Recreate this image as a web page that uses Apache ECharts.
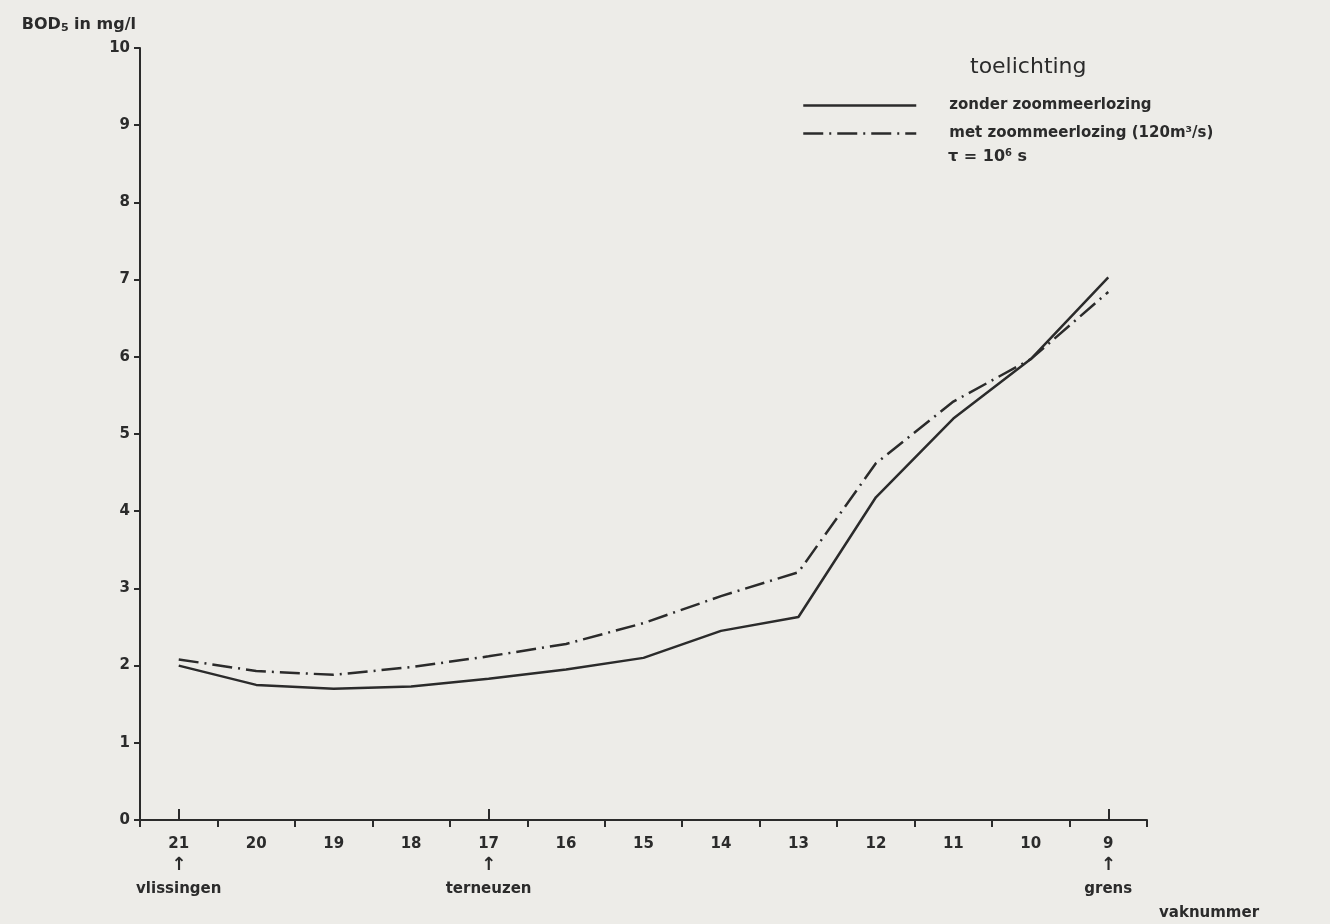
<!DOCTYPE html>
<html lang="nl">
<head>
    <meta charset="UTF-8">
    <title>BOD5 per vak</title>
    <script src="https://cdn.jsdelivr.net/npm/echarts@6/dist/echarts.min.js"></script>
    <style>
        html, body { margin: 0; padding: 0; background: #edece8; }
        #main { width: 1330px; height: 924px; }
    </style>
</head>
<body>
<div id="main"></div>
<script>
    // vaknummers (x-as), van vlissingen naar de grens
    var vakken = ['21', '20', '19', '18', '17', '16', '15', '14', '13', '12', '11', '10', '9'];
    // plaatsnamen onder de as
    var plaatsen = { '21': 'vlissingen', '17': 'terneuzen', '9': 'grens' };
    // BOD5 in mg/l
    var zonder = [2.0, 1.75, 1.7, 1.73, 1.83, 1.95, 2.1, 2.45, 2.63, 4.18, 5.2, 5.97, 7.03];
    var met = [2.08, 1.93, 1.88, 1.98, 2.12, 2.28, 2.55, 2.9, 3.21, 4.62, 5.42, 5.97, 6.84];
    var yTicks = [0, 10, 1];

    var ink = '#2b2b2b';
    var font = 'DejaVu Sans';

    var myChart = echarts.init(document.getElementById('main'));

    var option = {
        backgroundColor: '#edece8',
        animation: false,
        textStyle: { fontFamily: font, color: ink },
        grid: { left: 140, right: 183, top: 48, bottom: 104 },
        legend: {
            orient: 'vertical',
            left: 797,
            top: 93,
            itemWidth: 113,
            itemHeight: 14,
            itemGap: 13,
            itemStyle: { opacity: 0 },
            lineStyle: { width: 2.5 },
            data: ['zonder zoommeerlozing', 'met zoommeerlozing (120m³/s)'],
            textStyle: { fontFamily: font, fontSize: 15, fontWeight: 'bold', color: ink, padding: [0, 0, 0, 28] }
        },
        graphic: [
            { type: 'text', left: 970, top: 56, style: { text: 'toelichting', font: '22px "DejaVu Sans"', fill: ink } },
            { type: 'text', left: 948, top: 148, style: {
                text: '{t|τ = 10}{s|6}{t| s}',
                fill: ink,
                rich: {
                    t: { fontFamily: font, fontSize: 16, fontWeight: 'bold', fill: ink },
                    s: { fontFamily: font, fontSize: 10, fontWeight: 'bold', fill: ink, verticalAlign: 'top', padding: [0, 0, 8, 0] }
                }
            } },
            { type: 'text', left: 1248, top: -11, style: { text: 'vaknummer', font: 'bold 15px "DejaVu Sans"', fill: ink } }
        ],
        xAxis: [{
            type: 'category',
            data: vakken,
            boundaryGap: true,
            name: 'vaknummer',
            nameLocation: 'end',
            nameGap: 12,
            nameTextStyle: { fontFamily: font, fontSize: 15, fontWeight: 'bold', color: ink, verticalAlign: 'top', padding: [86, 0, 0, 0] },
            axisLine: { lineStyle: { color: ink, width: 2 } },
            axisTick: { show: true, interval: 0, length: 7, lineStyle: { color: ink, width: 2 } },
            axisLabel: {
                interval: 0,
                margin: 14,
                formatter: function (v) {
                    if (plaatsen[v]) return '{n|' + v + '}\n{a|↑}\n{p|' + plaatsen[v] + '}';
                    return '{n|' + v + '}';
                },
                rich: {
                    n: { fontFamily: font, fontSize: 15, fontWeight: 'bold', color: ink, lineHeight: 20 },
                    a: { fontFamily: font, fontSize: 18, fontWeight: 'bold', color: ink, lineHeight: 22 },
                    p: { fontFamily: font, fontSize: 15, fontWeight: 'bold', color: ink, lineHeight: 26 }
                }
            }
        }, {
            // korte merktekens boven de as bij de plaatsen
            type: 'category',
            data: vakken,
            position: 'bottom',
            axisLine: { show: false },
            axisLabel: { show: false },
            axisTick: {
                show: true,
                inside: true,
                length: 11,
                alignWithLabel: true,
                interval: function (i, v) { return !!plaatsen[v]; },
                lineStyle: { color: ink, width: 2 }
            }
        }],
        yAxis: {
            type: 'value',
            min: yTicks[0],
            max: yTicks[1],
            interval: yTicks[2],
            name: '{b|BOD}{s|5}{b| in mg/l}',
            nameLocation: 'end',
            nameGap: 14,
            nameTextStyle: {
                align: 'right',
                padding: [0, 4, 0, 0],
                rich: {
                    b: { fontFamily: font, fontSize: 16, fontWeight: 'bold', color: ink },
                    s: { fontFamily: font, fontSize: 11, fontWeight: 'bold', color: ink, verticalAlign: 'bottom', padding: [8, 0, 0, 0] }
                }
            },
            splitLine: { show: false },
            axisLine: { show: true, lineStyle: { color: ink, width: 2 } },
            axisTick: { show: true, length: 6, lineStyle: { color: ink, width: 2 } },
            axisLabel: { margin: 10, fontFamily: font, fontSize: 15, fontWeight: 'bold', color: ink }
        },
        series: [{
            name: 'zonder zoommeerlozing',
            type: 'line',
            data: zonder,
            symbol: 'none',
            lineStyle: { color: ink, width: 2.5 },
            itemStyle: { color: ink }
        }, {
            name: 'met zoommeerlozing (120m³/s)',
            type: 'line',
            data: met,
            symbol: 'none',
            lineStyle: { color: ink, width: 2.5, type: [20, 6, 2, 6] },
            itemStyle: { color: ink }
        }]
    };
    myChart.setOption(option);
</script>
</body>
</html>
